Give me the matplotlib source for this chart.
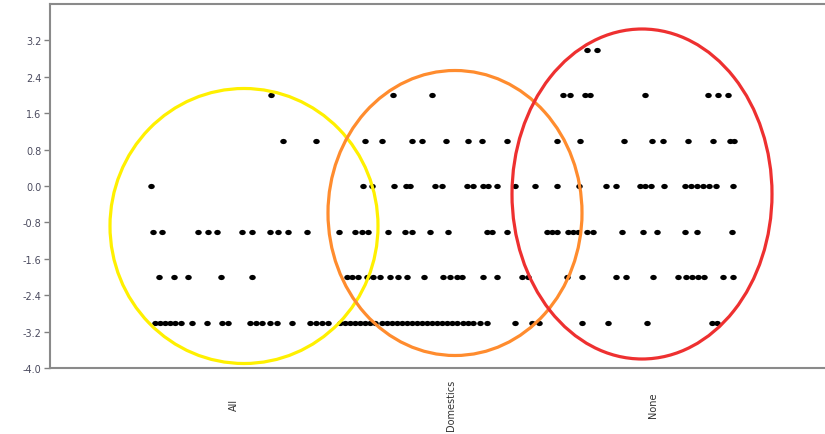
import matplotlib
matplotlib.use("Agg")
import matplotlib.pyplot as plt
from matplotlib.patches import Ellipse
from matplotlib.path import Path
from matplotlib.transforms import Affine2D

plt.rcParams['axes.unicode_minus'] = False
plt.rcParams['font.family'] = ['DejaVu Sans']

# Category labels and their positions on the x scale
categories = ["All", "Domestics", "None"]
category_pos = [234, 451, 653]

# y tick labels
y_ticks = [-4.0, -3.2, -2.4, -1.6, -0.8, 0.0, 0.8, 1.6, 2.4, 3.2]

# x positions of points at each score level
x_at_3 = [587, 597]
x_at_2 = [271, 393, 432, 563, 570, 585, 590, 645, 708, 718, 728]
x_at_1 = [283, 316, 365, 382, 412, 422, 446, 468, 482, 507, 557, 580, 624,
          652, 663, 688, 713, 730, 734]
x_at_0 = [151, 363, 372, 394, 406, 410, 435, 442, 467, 473, 483, 488, 497,
          515, 535, 557, 579, 606, 616, 640, 645, 651, 664, 685, 691, 697,
          703, 709, 716, 733]
x_at_m1 = [153, 162, 198, 208, 217, 242, 252, 270, 278, 288, 307, 339, 355,
           362, 368, 388, 405, 412, 430, 448, 487, 492, 507, 547, 552, 557,
           568, 573, 578, 587, 593, 622, 643, 657, 685, 697, 732]
x_at_m2 = [159, 174, 188, 221, 252, 347, 352, 358, 367, 373, 380, 390, 398,
           407, 424, 443, 450, 457, 462, 483, 497, 522, 528, 567, 582, 616,
           626, 653, 678, 686, 692, 698, 704, 723, 733]
x_at_m3 = [155, 160, 165, 170, 175, 181, 192, 207, 222, 228, 250, 256, 262,
           270, 277, 292, 310, 316, 322, 328, 340, 345, 350, 355, 360, 365,
           370, 375, 382, 387, 392, 397, 402, 407, 412, 417, 422, 427, 432,
           437, 442, 447, 452, 457, 463, 468, 473, 480, 487, 515, 532, 539,
           582, 608, 647, 712, 717]

levels = [3, 2, 1, 0, -1, -2, -3]
rows = [x_at_3, x_at_2, x_at_1, x_at_0, x_at_m1, x_at_m2, x_at_m3]

W, H = 825, 435
fig = plt.figure(figsize=(W / 100, H / 100), dpi=100)
ax = fig.add_axes([50 / W, (H - 369) / H, (W - 50) / W, (369 - 5) / H])

# slightly wide oval marker
oval = Path.unit_circle().transformed(Affine2D().scale(1.25, 1.0))

for lvl, xs in zip(levels, rows):
    ax.scatter(xs, [lvl] * len(xs), s=22, marker=oval, color="black",
               linewidths=0, zorder=2)

ax.set_xlim(50, 825)
ax.set_ylim(-4.0, 4.0)
ax.set_yticks(y_ticks)
ax.set_yticklabels([f"{v:.1f}" for v in y_ticks])
ax.set_xticks(category_pos)
ax.set_xticklabels(categories, rotation=90, va="center", ha="center")

ax.tick_params(axis="y", length=4, width=1, color="#808080",
               labelsize=7, labelcolor="#4a4a5e", pad=2)
ax.tick_params(axis="x", length=0, labelsize=7, labelcolor="#333333", pad=26)

for side in ["left", "bottom", "top"]:
    ax.spines[side].set_color("#8a8a8a")
    ax.spines[side].set_linewidth(1.5)
ax.spines["right"].set_visible(False)

# Highlight ellipses (center x, center y, width, height, color)
px_per_unit = 364 / 8.0
ellipses = [
    (244, (187 - 227) / px_per_unit, 268, 275 / px_per_unit, "#fff000"),
    (455, (187 - 214) / px_per_unit, 254, 285 / px_per_unit, "#ff8c2e"),
    (642, (187 - 195) / px_per_unit, 260, 330 / px_per_unit, "#ee3030"),
]
for cx, cy, w, h, c in ellipses:
    ax.add_patch(Ellipse((cx, cy), w, h, fill=False, edgecolor=c,
                         linewidth=2.3, zorder=3, clip_on=False))

fig.savefig("out.png", dpi=100)
